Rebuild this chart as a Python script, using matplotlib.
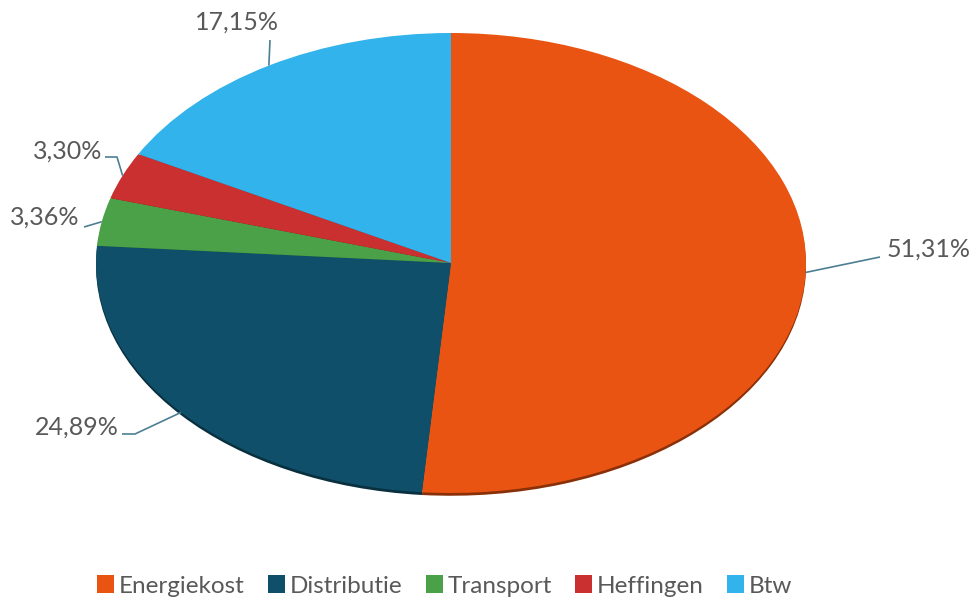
import numpy as np
import matplotlib
matplotlib.use("Agg")
import matplotlib.pyplot as plt

# ---- data ----
labels = ["Energiekost", "Distributie", "Transport", "Heffingen", "Btw"]
values = [51.31, 24.89, 3.36, 3.30, 17.15]
colors = ["#E95413", "#104F69", "#4AA147", "#C9302F", "#33B3EC"]
shadow = ["#8a3008", "#08303f", "#2c622a", "#7a1c1c", "#1f6c8e"]

# pixel geometry of the ellipse (centre, radii) in the 975x599 picture
W, H = 975, 599
cx, cy, rx, ry = 451, 263, 355, 230

def to_data(px, py):
    return (px - cx) / rx, (cy - py) / ry

plt.rcParams['font.family'] = ['Lato', 'DejaVu Sans']
fig = plt.figure(figsize=(W / 100, H / 100), dpi=100)
ax = fig.add_axes([0, 0, 1, 1])

# thin dark rim under the pie (Excel 3D look)
ax.pie(values, colors=shadow, startangle=90, counterclock=False,
       center=(0, -0.012), wedgeprops=dict(linewidth=0))
wedges, _ = ax.pie(values, colors=colors, startangle=90, counterclock=False,
                   wedgeprops=dict(linewidth=0))

ax.set_aspect('auto')
x0, y1 = to_data(0, 0)
x1, y0 = to_data(W, H)
ax.set_xlim(x0, x1)
ax.set_ylim(y0, y1)
ax.axis('off')

# ---- labels with leader lines (elbow/text positions in pixels) ----
lab_layout = [
    ([(880, 257)], 887, 249, 'left'),
    ([(135, 434), (122, 434)], 119, 427, 'right'),
    ([(84, 227)], 79, 217, 'right'),
    ([(117, 157), (105, 157)], 102, 151, 'right'),
    ([(270, 40)], 237, 22, 'center'),
]
line_col = "#4d7f93"
for w, v, (pts, tx, ty, ha) in zip(wedges, values, lab_layout):
    ang = np.deg2rad((w.theta1 + w.theta2) / 2)
    xs = [np.cos(ang)]
    ys = [np.sin(ang)]
    for p in pts:
        dx, dy = to_data(*p)
        xs.append(dx)
        ys.append(dy)
    ax.plot(xs, ys, color=line_col, lw=1.2, solid_capstyle='butt')
    tdx, tdy = to_data(tx, ty)
    ax.text(tdx, tdy, f"{v:.2f}%".replace(".", ","), ha=ha, va='center',
            fontsize=18, color="#595959")

leg = ax.legend(wedges, labels, loc='center', bbox_to_anchor=(0.456, 1 - 586 / H),
                bbox_transform=fig.transFigure, ncol=5, frameon=False,
                fontsize=17.5, handlelength=0.7, handleheight=0.7,
                handletextpad=0.2, columnspacing=0.95)
for t in leg.get_texts():
    t.set_color("#595959")

fig.savefig("out.png", dpi=100)
